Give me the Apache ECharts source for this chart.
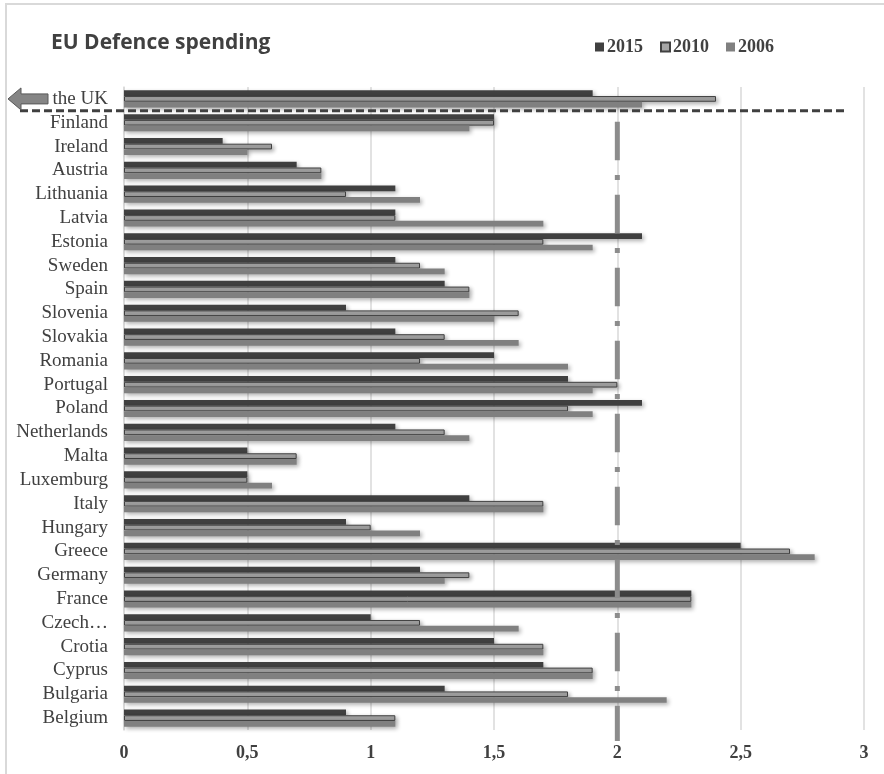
<!DOCTYPE html>
<html>
<head>
<meta charset="utf-8">
<script src="https://cdn.jsdelivr.net/npm/echarts@6/dist/echarts.min.js"></script>
<style>
  html, body { margin: 0; padding: 0; background: #ffffff; }
  #chart { width: 884px; height: 774px; }
</style>
</head>
<body>
<div id="chart"></div>
<script>
// Countries, listed top to bottom
const countries = ['the UK', 'Finland', 'Ireland', 'Austria', 'Lithuania', 'Latvia', 'Estonia',
  'Sweden', 'Spain', 'Slovenia', 'Slovakia', 'Romania', 'Portugal', 'Poland', 'Netherlands',
  'Malta', 'Luxemburg', 'Italy', 'Hungary', 'Greece', 'Germany', 'France', 'Czech…',
  'Crotia', 'Cyprus', 'Bulgaria', 'Belgium'];

// Defence spending, % of GDP
const spending2015 = [1.9, 1.5, 0.4, 0.7, 1.1, 1.1, 2.1, 1.1, 1.3, 0.9, 1.1, 1.5, 1.8, 2.1, 1.1,
  0.5, 0.5, 1.4, 0.9, 2.5, 1.2, 2.3, 1.0, 1.5, 1.7, 1.3, 0.9];
const spending2010 = [2.4, 1.5, 0.6, 0.8, 0.9, 1.1, 1.7, 1.2, 1.4, 1.6, 1.3, 1.2, 2.0, 1.8, 1.3,
  0.7, 0.5, 1.7, 1.0, 2.7, 1.4, 2.3, 1.2, 1.7, 1.9, 1.8, 1.1];
const spending2006 = [2.1, 1.4, 0.5, 0.8, 1.2, 1.7, 1.9, 1.3, 1.4, 1.5, 1.6, 1.8, 1.9, 1.9, 1.4,
  0.7, 0.6, 1.7, 1.2, 2.8, 1.3, 2.3, 1.6, 1.7, 1.9, 2.2, 1.1];

const seriesNames = ['2015', '2010', '2006'];
const natoTarget = 2;   // the 2 % guideline
const xTicks = [0, 0.5, 1, 1.5, 2, 2.5, 3];

const chart = echarts.init(document.getElementById('chart'), null, { renderer: 'canvas' });

const shadow = { shadowBlur: 4, shadowOffsetX: 2, shadowOffsetY: 2, shadowColor: 'rgba(0,0,0,0.32)' };

function barSeries(name, data, style) {
  return {
    name: name,
    type: 'bar',
    data: data,
    barGap: '0%',
    barCategoryGap: '28%',
    itemStyle: Object.assign({}, shadow, style),
    emphasis: { disabled: true },
    z: 2
  };
}

chart.setOption({
  animation: false,
  backgroundColor: '#ffffff',
  title: {
    text: 'EU Defence spending',
    left: 46,
    top: 28,
    textStyle: { fontFamily: 'Open Sans', fontWeight: 'bold', fontSize: 21, color: '#404040' }
  },
  legend: {
    data: seriesNames,
    left: 590,
    top: 33,
    itemWidth: 9,
    itemHeight: 9,
    itemGap: 17,
    icon: 'rect',
    textStyle: { fontFamily: 'Liberation Serif', fontWeight: 'bold', fontSize: 18, color: '#404040', padding: [0, 0, 0, -2] }
  },
  grid: { left: 124, right: 20, top: 87, bottom: 44, containLabel: false },
  xAxis: {
    type: 'value',
    min: xTicks[0],
    max: xTicks[xTicks.length - 1],
    interval: 0.5,
    axisLine: { show: false },
    axisTick: { show: false },
    splitLine: { show: true, lineStyle: { color: '#d9d9d9', width: 1.5 } },
    axisLabel: {
      margin: 14,
      fontFamily: 'Liberation Serif',
      fontWeight: 'bold',
      fontSize: 18,
      color: '#404040',
      formatter: v => String(v).replace('.', ',')
    }
  },
  yAxis: {
    type: 'category',
    data: countries,
    inverse: true,
    axisLine: { show: true, lineStyle: { color: '#d9d9d9', width: 1.5 } },
    axisTick: { show: false },
    axisLabel: {
      margin: 16,
      fontFamily: 'Liberation Serif',
      fontSize: 19,
      color: '#404040',
      interval: 0
    }
  },
  series: [
    barSeries(seriesNames[0], spending2015, { color: '#404040' }),
    barSeries(seriesNames[1], spending2010, { color: '#a6a6a6', borderColor: '#404040', borderWidth: 1 }),
    barSeries(seriesNames[2], spending2006, { color: '#808080' })
  ]
});

// Annotations placed through the chart's own scales
const xTarget = chart.convertToPixel({ xAxisIndex: 0 }, natoTarget);
const yUK = chart.convertToPixel({ yAxisIndex: 0 }, countries[0]);
const yFin = chart.convertToPixel({ yAxisIndex: 0 }, countries[1]);
const ySplit = (yUK + yFin) / 2;
const yBottom = chart.convertToPixel({ yAxisIndex: 0 }, countries[countries.length - 1]);

chart.setOption({
  graphic: [
    {
      // frame
      type: 'rect',
      shape: { x: 6, y: 4, width: 900, height: 800 },
      style: { fill: 'none', stroke: '#d9d9d9', lineWidth: 2 },
      silent: true,
      z: 0
    },
    {
      // 2 % target line
      type: 'line',
      shape: { x1: xTarget, y1: ySplit + 11, x2: xTarget, y2: yBottom + 23 },
      style: { stroke: '#8c8c8c', lineWidth: 5, lineDash: [38.5, 14.7, 5, 14.8] },
      silent: true,
      z: 10
    },
    {
      // separator between the UK and the rest
      type: 'line',
      shape: { x1: 20, y1: ySplit, x2: 848, y2: ySplit },
      style: { stroke: '#404040', lineWidth: 3, lineDash: [8, 4] },
      silent: true,
      z: 11
    },
    {
      // arrow pointing out of the EU
      type: 'polygon',
      shape: {
        points: [[8, yUK], [21, yUK - 11], [21, yUK - 5], [48, yUK - 5],
                 [48, yUK + 5], [21, yUK + 5], [21, yUK + 11]]
      },
      style: { fill: '#858585', stroke: '#595959', lineWidth: 1 },
      silent: true,
      z: 11
    }
  ]
});
</script>
</body>
</html>
